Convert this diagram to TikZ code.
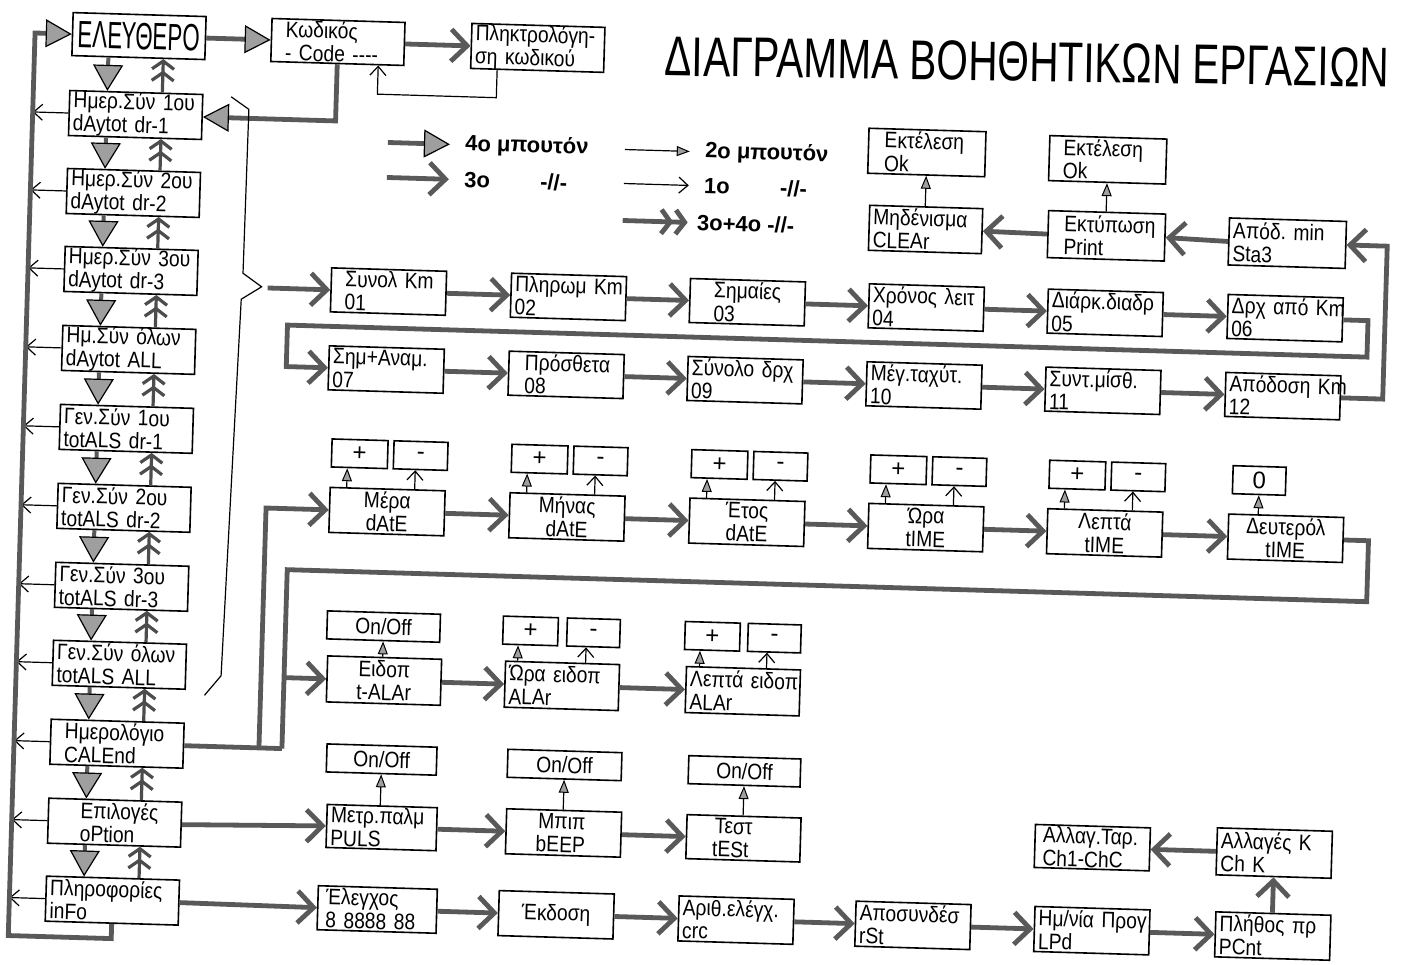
\documentclass[tikz,border=0pt]{standalone}
\usepackage{fontspec}
\setmainfont{Liberation Sans}
\newfontfamily\cnd{Liberation Sans}[FakeStretch=0.86]
\usepackage{graphicx}
\usetikzlibrary{arrows.meta,calc}
\newcommand{\bxfont}{\cnd\fontsize{11.2}{11.6}\selectfont\hyphenpenalty=10000\exhyphenpenalty=10000}
\newcommand{\pmfont}{\fontsize{12}{12}\selectfont}
\newcommand{\lgfont}{\bfseries\fontsize{11}{11}\selectfont}
\newcommand{\ind}[1]{\hspace*{#1}}
\begin{document}
\begin{tikzpicture}[x=0.5pt,y=-0.5pt,
  bx/.style={draw=black, line width=0.8pt, inner xsep=2pt, inner ysep=0pt, font=\bxfont, align=left},
  L/.style 2 args={bx, text width=#1, minimum height=#2},
  C/.style 2 args={bx, text width=#1, minimum height=#2, align=center},
  pm/.style={draw=black, line width=0.8pt, minimum width=#1, minimum height=14pt, inner sep=0pt, font=\pmfont},
  oo/.style={draw=black, line width=0.8pt, minimum width=#1, minimum height=14pt, inner sep=0pt, font=\bxfont},
  tk/.style={draw=black!65, line width=2.4pt},
  a4/.style={tk, -{Triangle[length=13pt,width=14pt,fill=gray!75,color=black,line width=0.6pt]}},
  a3/.style={tk, -{Straight Barb[length=8pt,width=16pt,line width=2.4pt]}},
  a34/.style={tk, -{Straight Barb[length=4.5pt,width=12pt,line width=2.4pt] Straight Barb[length=4.5pt,width=12pt,line width=2.4pt]}},
  a2/.style={draw=black, line width=0.6pt, -{Triangle[length=6.5pt,width=5pt,fill=gray!75,color=black,line width=0.5pt]}},
  a1/.style={draw=black, line width=0.6pt, -{Straight Barb[length=4.5pt,width=8pt,line width=0.6pt]}},
  dn/.style={draw=black!65, line width=2pt, -{Triangle[length=13pt,width=15pt,fill=gray!75,color=black,line width=0.6pt]}},
  up/.style={draw=black!70, line width=1.6pt, -{Straight Barb[length=4pt,width=11pt,line width=1.6pt] Straight Barb[length=4pt,width=11pt,line width=1.6pt]}},
  lg/.style={font=\lgfont, anchor=west, inner sep=0pt}]
\fill[white] (0,0) rectangle (1408,964);
\useasboundingbox (0,0) rectangle (1408,964);

\node[font=\fontsize{28}{28}\selectfont, rotate=-0.9, inner sep=0pt] (title) at (1027,62) {\scalebox{0.725}[1]{ΔΙΑΓΡΑΜΜΑ ΒΟΗΘΗΤΙΚΩΝ ΕΡΓΑΣΙΩΝ}};

\begin{scope}[rotate around={-1.7:(704,482)}, transform shape]
% helper coordinates
\coordinate (vl) at (22,0);
\coordinate (bot) at (22,956);
\coordinate (px) at (485,0);
\coordinate (fb) at (366,104);
\coordinate (bx1) at (1363,0);
\coordinate (abret) at (1363,337.5);
\coordinate (bx2) at (283,0);
\coordinate (sx) at (1380,0);
\coordinate (cx1) at (267,0);
\coordinate (cx2) at (290,0);
\coordinate (dx) at (1370,0);
\coordinate (dret) at (1370,582);
\coordinate (btip) at (262,301);

% left column
\node[C={62.5pt}{21.5pt}] (free) at (126,53) {\scalebox{0.68}[1]{\fontsize{19}{19}\selectfont ΕΛΕΥΘΕΡΟ}};
\node[L={62.5pt}{22.5pt}] (h1) at (125,132) {Ημερ.Σύν~1ου\\dAytot~dr-1};
\node[L={62.5pt}{22.5pt}] (h2) at (125,210) {Ημερ.Σύν~2ου\\dAytot~dr-2};
\node[L={62.5pt}{22.5pt}] (h3) at (125,288) {Ημερ.Σύν~3ου\\dAytot~dr-3};
\node[L={62.5pt}{22.5pt}] (h4) at (125,367) {Ημ.Σύν~όλων\\dAytot~ALL};
\node[L={62.5pt}{22.5pt}] (g1) at (125,446) {Γεν.Σύν~1ου\\totALS~dr-1};
\node[L={62.5pt}{22.5pt}] (g2) at (125,525) {Γεν.Σύν~2ου\\totALS~dr-2};
\node[L={62.5pt}{22.5pt}] (g3) at (125,604) {Γεν.Σύν~3ου\\totALS~dr-3};
\node[L={62.5pt}{22.5pt}] (g4) at (125,682) {Γεν.Σύν~όλων\\totALS~ALL};
\node[L={62.5pt}{22.5pt}] (cal) at (125,761) {\ind{5pt}Ημερολόγιο\\\ind{5pt}CALEnd};
\node[L={62.5pt}{22.5pt}] (opt) at (125,840) {\ind{14pt}Επιλογές\\\ind{14pt}oPtion};
\node[L={62.5pt}{22.5pt}] (info) at (125,918) {Πληροφορίες\\inFo};

\foreach \a/\b in {free/h1,h1/h2,h2/h3,h3/h4,h4/g1,g1/g2,g2/g3,g3/g4,g4/cal,cal/opt,opt/info}{
  \draw[dn] (96,0 |- \a.south) -- (96,0 |- \b.north);
  \draw[up] (151,0 |- \b.north) -- (151,0 |- \a.south);
}
\foreach \n in {h1,h2,h3,h4,g1,g2,g3,g4,cal,opt,info}{
  \draw[a1] (\n.west) -- (vl |- \n.west);
}
\draw[a4] (info.south) -- (info.south |- bot) -- (bot) -- (vl |- free.west) -- (free.west);

% top
\node[L={62.5pt}{21.5pt}] (kod) at (325,53) {\ind{5pt}Κωδικός\\\ind{5pt}-~Code~-{}-{}-{}-};
\node[L={62.5pt}{22.5pt}] (plk) at (525,53) {Πληκτρολόγη-\\ση~κωδικού};
\draw[a4] (free.east) -- (kod.west);
\draw[a3] (kod.east) -- (plk.west);
\draw[a1] (px |- plk.south) -- (px |- fb) -- (fb) -- (fb |- kod.south);
\draw[a4] (kod.south) |- (h1.east);

% legend
\coordinate (l1a) at (378,152); \coordinate (l1b) at (440,152);
\coordinate (l2a) at (615,152); \coordinate (l2b) at (680,152);
\coordinate (l3a) at (378,187); \coordinate (l3b) at (440,187);
\coordinate (l4a) at (615,186); \coordinate (l4b) at (680,186);
\coordinate (l5a) at (615,223); \coordinate (l5b) at (680,223);
\draw[a4] (l1a) -- (l1b);
\draw[a2] (l2a) -- (l2b);
\draw[a3] (l3a) -- (l3b);
\draw[a1] (l4a) -- (l4b);
\draw[a34] (l5a) -- (l5b);
\node[lg] (t1) at (455,152) {4ο μπουτόν};
\node[lg] (t2) at (695,152) {2ο μπουτόν};
\node[lg] (t3) at (455,187) {3ο};
\node[lg] (t3b) at (531,187) {-//-};
\node[lg] (t4) at (695,186) {1ο};
\node[lg] (t4b) at (771,186) {-//-};
\node[lg] (t5) at (689,223) {3ο+4ο -//-};

% top right group
\node[L={54.5pt}{22.5pt}] (ekl) at (917,146) {\ind{6pt}Εκτέλεση\\\ind{6pt}Ok};
\node[L={54.5pt}{22.5pt}] (ekr) at (1098,148) {\ind{5pt}Εκτέλεση\\\ind{5pt}Ok};
\node[L={52.5pt}{22.5pt}] (clr) at (918,223) {Μηδένισμα\\CLEAr};
\node[L={54.5pt}{23.5pt}] (prt) at (1099,224) {\ind{6pt}Εκτύπωση\\\ind{6pt}Print};
\node[L={54.5pt}{23.5pt}] (sta) at (1280,226) {Απόδ.~min\\Sta3};
\draw[a3] (sta.west) -- (prt.east);
\draw[a3] (prt.west) -- (clr.east);
\draw[a2] (ekl.south |- clr.north) -- (ekl.south);
\draw[a2] (ekr.south |- prt.north) -- (ekr.south);

% row A
\node[L={53.5pt}{22pt}] (k1) at (383,301) {\ind{5pt}Συνολ~Km\\\ind{5pt}01};
\node[L={53.5pt}{22pt}] (k2) at (563,301) {Πληρωμ~Km\\02};
\node[L={53.5pt}{22pt}] (k3) at (742,301) {\ind{10pt}Σημαίες\\\ind{10pt}03};
\node[L={53.5pt}{22pt}] (k4) at (921,301) {Χρόνος~λειτ\\04};
\node[L={53.5pt}{22pt}] (k5) at (1100,301) {Διάρκ.διαδρ\\05};
\node[L={53.5pt}{22pt}] (k6) at (1280,301) {Δρχ~από~Km\\06};
% row B
\node[L={53.5pt}{22pt}] (k7) at (383,379) {Σημ+Αναμ.\\07};
\node[L={53.5pt}{22pt}] (k8) at (563,379) {\ind{6pt}Πρόσθετα\\\ind{6pt}08};
\node[L={53.5pt}{22pt}] (k9) at (742,379) {Σύνολο~δρχ\\09};
\node[L={53.5pt}{22pt}] (k10) at (921,379) {Μέγ.ταχύτ.\\10};
\node[L={53.5pt}{22pt}] (k11) at (1100,379) {Συντ.μίσθ.\\11};
\node[L={53.5pt}{22pt}] (k12) at (1280,379) {Απόδοση~Km\\12};

\draw[line width=0.6pt] (220,111) -- (238,123) -- (237,287) -- (256,300) -- (236,313) -- (227,690) -- (211,710);
\draw[a3] (btip) -- (k1.west);
\foreach \a/\b in {k1/k2,k2/k3,k3/k4,k4/k5,k5/k6,k7/k8,k8/k9,k9/k10,k10/k11,k11/k12}{
  \draw[a3] (\a.east) -- (\b.west);
}
\draw[a3] (k6.east) -- (bx1 |- k6.east) -- (abret) -- (abret -| bx2) -- (bx2 |- k7.west) -- (k7.west);
\draw[a3] (k12.east) -- (sx |- k12.east) -- (sx |- sta.east) -- (sta.east);

% row C
\node[C={53.5pt}{22.5pt}] (d1) at (388,521) {Μέρα\\dAtE};
\node[C={53.5pt}{22.5pt}] (d2) at (568,521) {Μήνας\\dAtE};
\node[C={53.5pt}{22.5pt}] (d3) at (748,521) {Έτος\\dAtE};
\node[C={53.5pt}{22.5pt}] (d4) at (927,521) {Ώρα\\tIME};
\node[C={53.5pt}{22.5pt}] (d5) at (1106,521) {Λεπτά\\tIME};
\node[C={53.5pt}{22.5pt}] (d6) at (1287,521) {Δευτερόλ\\tIME};
\foreach \n/\x in {1/388,2/568,3/748,4/927,5/1106}{
  \node[pm=28pt] (dp\n) at ({\x-29},464) {+};
  \node[pm=27pt] (dm\n) at ({\x+32},464) {-};
  \draw[a2] ({\x-41},0 |- d\n.north) -- ({\x-41},0 |- dp\n.south);
  \draw[a1] ({\x+27},0 |- d\n.north) -- ({\x+27},0 |- dm\n.south);
}
\node[pm=26.5pt] (d0) at (1259,464) {0};
\draw[a2] (d0.south |- d6.north) -- (d0.south);
\draw[tk] (cal.east) -- (cx2 |- cal.east);
\draw[a3] (cx1 |- cal.east) -- (cx1 |- d1.west) -- (d1.west);
\foreach \a/\b in {d1/d2,d2/d3,d3/d4,d4/d5,d5/d6}{
  \draw[a3] (\a.east) -- (\b.west);
}
\draw[tk] (d6.east) -- (dx |- d6.east) -- (dret) -- (dret -| cx2) -- (cx2 |- cal.east);

% row D
\node[C={53pt}{23pt}] (e1) at (390,690) {Ειδοπ\\t-ALAr};
\node[L={53pt}{23pt}] (e2) at (568,690) {Ώρα~ειδοπ\\ALAr};
\node[L={53pt}{23pt}] (e3) at (749,690) {Λεπτά~ειδοπ\\ALAr};
\node[oo=56.5pt] (e1o) at (388,636) {On/Off};
\node[pm=27.5pt] (e2p) at (535,636) {+};
\node[pm=26.5pt] (e2m) at (598,636) {-};
\node[pm=27.5pt] (e3p) at (717,636) {+};
\node[pm=26.5pt] (e3m) at (779,636) {-};
\draw[a2] (e1o.south |- e1.north) -- (e1o.south);
\draw[a2] (523,0 |- e2.north) -- (523,0 |- e2p.south);
\draw[a1] (591,0 |- e2.north) -- (591,0 |- e2m.south);
\draw[a2] (705,0 |- e3.north) -- (705,0 |- e3p.south);
\draw[a1] (772,0 |- e3.north) -- (772,0 |- e3m.south);
\draw[a3] (cx2 |- e1.west) -- (e1.west);
\draw[a3] (e1.east) -- (e2.west);
\draw[a3] (e2.east) -- (e3.west);

% row E
\node[L={51pt}{21.5pt}] (o1) at (392,837) {Μετρ.παλμ\\PULS};
\node[L={53.5pt}{22.5pt}] (o2) at (574,837) {\ind{14pt}Μπιπ\\\ind{13pt}bEEP};
\node[L={53pt}{22pt}] (o3) at (754,837) {\ind{12pt}Τεστ\\\ind{11pt}tESt};
\node[oo=55pt] (o1o) at (390,769) {On/Off};
\node[oo=57pt] (o2o) at (573,769) {On/Off};
\node[oo=56pt] (o3o) at (753,770) {On/Off};
\draw[a2] (o1o.south |- o1.north) -- (o1o.south);
\draw[a2] (o2o.south |- o2.north) -- (o2o.south);
\draw[a2] (o3o.south |- o3.north) -- (o3o.south);
\draw[a3] (opt.east) -- (o1.west);
\draw[a3] (o1.east) -- (o2.west);
\draw[a3] (o2.east) -- (o3.west);

% row F
\node[L={55.5pt}{22pt}] (f1) at (390,919) {\ind{2pt}Έλεγχος\\\ind{2pt}8~8888~88};
\node[C={53.5pt}{22.5pt}] (f2) at (569,919) {Έκδοση};
\node[L={53.5pt}{22.5pt}] (f3) at (749,919) {Αριθ.ελέγχ.\\crc};
\node[L={53.5pt}{22.5pt}] (f4) at (926,919) {Αποσυνδέσ\\rSt};
\node[L={53.5pt}{22.5pt}] (f5) at (1105,919) {Ημ/νία~Προγ\\LPd};
\node[L={53.5pt}{22.5pt}] (f6) at (1286,919) {Πλήθος~πρ\\PCnt};
\node[L={53.5pt}{23.5pt}] (chk) at (1285,836) {Αλλαγές~K\\Ch~K};
\node[L={53.5pt}{21.5pt}] (ch1) at (1103,836) {\ind{2pt}Αλλαγ.Ταρ.\\\ind{2pt}Ch1-ChC};
\draw[a3] (info.east) -- (f1.west);
\foreach \a/\b in {f1/f2,f2/f3,f3/f4,f4/f5,f5/f6}{
  \draw[a3] (\a.east) -- (\b.west);
}
\draw[a3] (chk.south |- f6.north) -- (chk.south);
\draw[a3] (chk.west) -- (ch1.east);
\end{scope}
\end{tikzpicture}
\end{document}
